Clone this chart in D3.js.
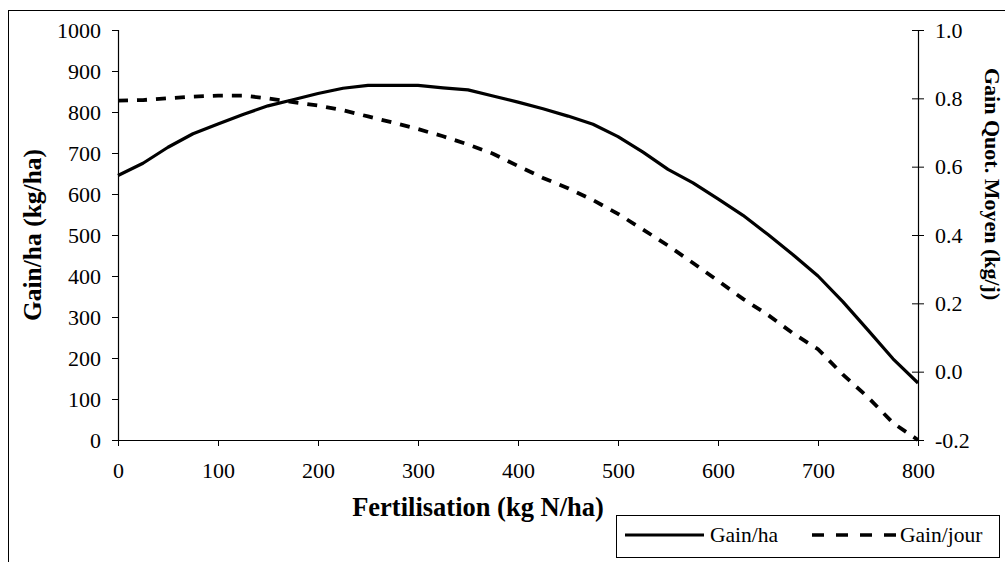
<!DOCTYPE html>
<html>
<head>
<meta charset="utf-8">
<script src="https://cdn.jsdelivr.net/npm/d3@7"></script>
<style>
  body { margin: 0; background: #fff; }
  svg { font-family: "Liberation Serif", "Times New Roman", serif; }
</style>
</head>
<body>
<div id="root"></div>
<script>
// nitrogen levels (kg N/ha) and the two series
var nitrogen = [0, 25, 50, 75, 100, 125, 150, 175, 200, 225, 250, 275, 300, 325, 350, 375, 400,
                425, 450, 475, 500, 525, 550, 575, 600, 625, 650, 675, 700, 725, 750, 775, 800];
var gainHa = [645, 675, 714, 747, 771, 794, 815, 830, 845, 858, 865, 865, 865, 859, 854, 839, 824,
              808, 790, 770, 740, 702, 660, 627, 588, 548, 501, 452, 400, 337, 268, 198, 139];
var gainJour = [0.793, 0.795, 0.800, 0.805, 0.808, 0.808, 0.800, 0.789, 0.779, 0.765, 0.747, 0.729, 0.710,
                0.689, 0.665, 0.638, 0.602, 0.567, 0.537, 0.502, 0.462, 0.416, 0.369, 0.318, 0.266,
                0.213, 0.166, 0.112, 0.066, -0.009, -0.075, -0.150, -0.200];
var xTicks = [0, 100, 200, 300, 400, 500, 600, 700, 800];
var leftTicks = [0, 100, 200, 300, 400, 500, 600, 700, 800, 900, 1000];
var rightTicks = [-0.2, 0, 0.2, 0.4, 0.6, 0.8, 1.0];

var w = 1005, h = 562;
var plotLeft = 118, plotRight = 918, plotTop = 30, plotBottom = 440;

var svg = d3.select('#root').append('svg')
  .attr('width', w)
  .attr('height', h);

// outer chart border (right/bottom edges run off the picture)
svg.append('rect')
  .attr('x', 8.5).attr('y', 10.5)
  .attr('width', 1000).attr('height', 560)
  .attr('fill', 'none').attr('stroke', '#000').attr('stroke-width', 1);

var xScale = d3.scaleLinear().domain([0, 800]).range([plotLeft, plotRight]);
var yLeft = d3.scaleLinear().domain([0, 1000]).range([plotBottom, plotTop]);
var yRight = d3.scaleLinear().domain([-0.2, 1.0]).range([plotBottom, plotTop]);

// axes
var xAxis = svg.append('g')
  .attr('transform', 'translate(0,' + plotBottom + ')')
  .call(d3.axisBottom(xScale).tickValues(xTicks).tickSize(6).tickPadding(16).tickFormat(d3.format('d')));

var lAxis = svg.append('g')
  .attr('transform', 'translate(' + plotLeft + ',0)')
  .call(d3.axisLeft(yLeft).tickValues(leftTicks).tickSize(6).tickPadding(11).tickFormat(d3.format('d')));

var rAxis = svg.append('g')
  .attr('transform', 'translate(' + plotRight + ',0)')
  .call(d3.axisRight(yRight).tickValues(rightTicks).tickSize(6).tickPadding(11)
    .tickFormat(function(d) { return d3.format('.1f')(d).replace('\u2212', '-'); }));

// right axis ticks cross the line
rAxis.selectAll('.tick line').attr('x1', -6);

[xAxis, lAxis, rAxis].forEach(function(a) {
  a.select('.domain').attr('stroke', '#000').attr('stroke-width', 1.2);
  a.selectAll('.tick line').attr('stroke', '#000');
  a.selectAll('.tick text')
    .attr('fill', '#000')
    .style('font-family', '"Liberation Serif", serif')
    .style('font-size', '22px');
});
xAxis.select('.domain').attr('d', 'M' + plotLeft + ',0.5H' + plotRight);

// curves
var lineHa = d3.line()
  .x(function(d, i) { return xScale(nitrogen[i]); })
  .y(function(d) { return yLeft(d); });
var lineJour = d3.line()
  .x(function(d, i) { return xScale(nitrogen[i]); })
  .y(function(d) { return yRight(d); });

svg.append('path')
  .datum(gainHa)
  .attr('d', lineHa)
  .attr('fill', 'none')
  .attr('stroke', '#000')
  .attr('stroke-width', 3.2)
  .attr('stroke-linejoin', 'round');

svg.append('path')
  .datum(gainJour)
  .attr('d', lineJour)
  .attr('fill', 'none')
  .attr('stroke', '#000')
  .attr('stroke-width', 3.8)
  .attr('stroke-dasharray', '10,9');

// axis titles
svg.append('text')
  .attr('transform', 'translate(41,235) rotate(-90)')
  .attr('text-anchor', 'middle')
  .style('font-weight', 'bold')
  .style('font-size', '25.5px')
  .text('Gain/ha (kg/ha)');

svg.append('text')
  .attr('transform', 'translate(985,68) rotate(90)')
  .attr('text-anchor', 'start')
  .style('font-weight', 'bold')
  .style('font-size', '22px')
  .text('Gain Quot. Moyen (kg/j)');

svg.append('text')
  .attr('x', 478)
  .attr('y', 516)
  .attr('text-anchor', 'middle')
  .style('font-weight', 'bold')
  .style('font-size', '26.5px')
  .text('Fertilisation (kg N/ha)');

// legend
var legend = svg.append('g').attr('transform', 'translate(616,515)');
legend.append('rect')
  .attr('x', 0.5).attr('y', 0.5)
  .attr('width', 383).attr('height', 42)
  .attr('fill', '#fff').attr('stroke', '#000');

legend.append('line')
  .attr('x1', 9).attr('x2', 88).attr('y1', 20).attr('y2', 20)
  .attr('stroke', '#000').attr('stroke-width', 3.2);
legend.append('text')
  .attr('x', 94).attr('y', 27)
  .style('font-size', '21.5px')
  .text('Gain/ha');

legend.append('line')
  .attr('x1', 196).attr('x2', 281).attr('y1', 20).attr('y2', 20)
  .attr('stroke', '#000').attr('stroke-width', 3.6)
  .attr('stroke-dasharray', '12,12');
legend.append('text')
  .attr('x', 284).attr('y', 27)
  .style('font-size', '21.5px')
  .text('Gain/jour');
</script>
</body>
</html>
